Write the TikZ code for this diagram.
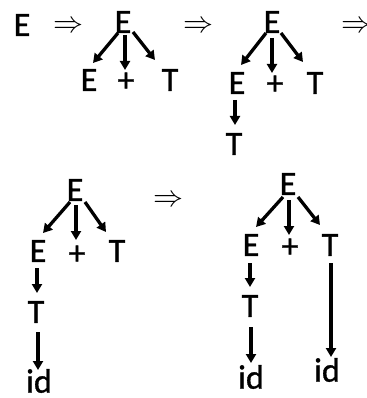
\documentclass[tikz,border=0pt]{standalone}
\usepackage{fontspec}
\setmainfont{Carlito}[FakeBold=1]
\usetikzlibrary{arrows.meta,calc}
\tikzset{
  sym/.style={inner sep=0pt, font=\fontsize{34}{40}\selectfont},
  impl/.style={inner sep=0pt},
  arr/.style={line width=3.3pt, -{Triangle[width=10pt,length=9pt]}}
}
\newcommand{\imp}{\scalebox{3}{$\Rightarrow$}}
\begin{document}
\begin{tikzpicture}[x=1pt,y=-1pt]
\clip (0,0) rectangle (366,398);
\useasboundingbox (0,0) rectangle (366,398);
% step 0
\node[sym] (e0) at (22,25) {E};
\node[impl] (i1) at (68,27) {\imp};
% tree 1
\node[sym] (ar) at (123,22) {E};
\node[sym] (ae) at (89,80) {E};
\node[sym] (ap) at (126,82) {+};
\node[sym] (at) at (170,80) {T};
\draw[arr] ($(ar)+(-5,11)$) -- ($(ae)+(4,-17)$);
\draw[arr] ($(ar)+(2,13)$) -- ($(ap)+(-1,-12)$);
\draw[arr] ($(ar)+(10,10)$) -- ($(at)+(-15,-20)$);
\node[impl] (i2) at (198,27) {\imp};
% tree 2
\node[sym] (br) at (272,22) {E};
\node[sym] (be) at (237,83) {E};
\node[sym] (bp) at (275,85) {+};
\node[sym] (bt) at (315,83) {T};
\node[sym] (btt) at (234,144) {T};
\draw[arr] ($(br)+(-6,11)$) -- ($(be)+(4,-18)$);
\draw[arr] ($(br)+(0,16)$) -- ($(bp)+(-3,-12)$);
\draw[arr] ($(br)+(9,11)$) -- ($(bt)+(-12,-21)$);
\draw[arr] ($(be)+(-2,17)$) -- ($(btt)+(1,-19)$);
\node[impl] (i3) at (356,27) {\imp};
% tree 3
\node[sym] (cr) at (75,190) {E};
\node[sym] (ce) at (38,251) {E};
\node[sym] (cp) at (77,255) {+};
\node[sym] (ct) at (117,251) {T};
\node[sym] (ctt) at (36,312) {T};
\node[sym] (cid) at (39,381) {id};
\draw[arr] ($(cr)+(-5,12)$) -- ($(ce)+(5,-18)$);
\draw[arr] ($(cr)+(1,15)$) -- ($(cp)+(-1,-15)$);
\draw[arr] ($(cr)+(10,12)$) -- ($(ct)+(-11,-19)$);
\draw[arr] ($(ce)+(-1,17)$) -- ($(ctt)+(1,-19)$);
\draw[arr] ($(ctt)+(2,20)$) -- ($(cid)+(-1,-11)$);
\node[impl] (i4) at (168,201) {\imp};
% tree 4
\node[sym] (dr) at (288,184) {E};
\node[sym] (de) at (251,245) {E};
\node[sym] (dp) at (290,248) {+};
\node[sym] (dt) at (330,245) {T};
\node[sym] (dtt) at (250,306) {T};
\node[sym] (did1) at (251,377) {id};
\node[sym] (did2) at (327,370) {id};
\draw[arr] ($(dr)+(-5,13)$) -- ($(de)+(5,-18)$);
\draw[arr] ($(dr)+(1,16)$) -- ($(dp)+(-1,-13)$);
\draw[arr] ($(dr)+(10,13)$) -- ($(dt)+(-10,-20)$);
\draw[arr] ($(de)+(-1,18)$) -- ($(dtt)+(0,-19)$);
\draw[arr] ($(dtt)+(1,21)$) -- ($(did1)+(0,-14)$);
\draw[arr] ($(dt)+(1,18)$) -- ($(did2)+(4,-13)$);
\end{tikzpicture}
\end{document}
